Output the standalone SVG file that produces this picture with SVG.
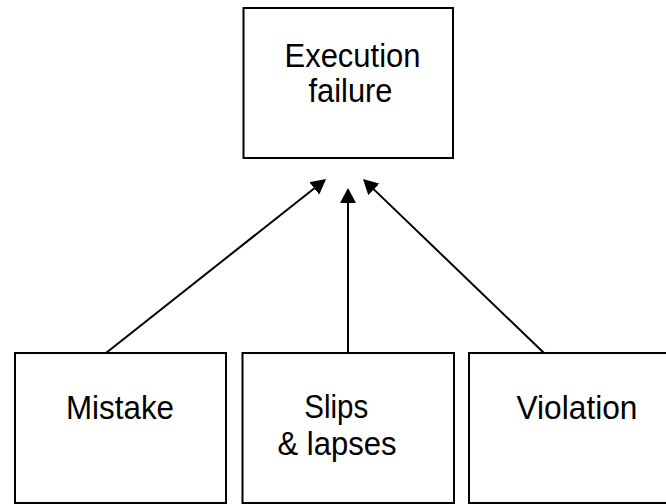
<svg xmlns="http://www.w3.org/2000/svg" width="666" height="504" viewBox="0 0 666 504">
<style>
.box{fill:#fff;stroke:#000;stroke-width:2}
.lbl{font-family:"Liberation Sans",Arial,sans-serif;font-size:33px;fill:#000;text-anchor:middle}
.edge{stroke:#000;stroke-width:2;fill:none}
</style>
<defs>
<marker id="arr" viewBox="0 0 15 16" refX="5" refY="8" markerWidth="15" markerHeight="16" markerUnits="userSpaceOnUse" orient="auto">
<path d="M0,0 L15,8 L0,16 z" fill="#000"/>
</marker>
</defs>
<rect width="666" height="504" fill="#fff"/>
<g id="execution-failure">
<rect class="box" x="243.5" y="8" width="209.5" height="150"/>
<text class="lbl" x="352.5" y="66.7" textLength="136" lengthAdjust="spacingAndGlyphs">Execution</text>
<text class="lbl" x="350.5" y="101.7" textLength="84" lengthAdjust="spacingAndGlyphs">failure</text>
</g>
<g id="mistake">
<rect class="box" x="15" y="353" width="211" height="150"/>
<text class="lbl" x="120" y="418.5" textLength="108" lengthAdjust="spacingAndGlyphs">Mistake</text>
</g>
<g id="slips-lapses">
<rect class="box" x="242.5" y="353" width="211.5" height="150"/>
<text class="lbl" x="336.3" y="418.3" textLength="64" lengthAdjust="spacingAndGlyphs">Slips</text>
<text class="lbl" x="337" y="455" textLength="119" lengthAdjust="spacingAndGlyphs">&amp; lapses</text>
</g>
<g id="violation">
<rect class="box" x="469" y="353" width="211" height="150"/>
<text class="lbl" x="577" y="419" textLength="121" lengthAdjust="spacingAndGlyphs">Violation</text>
</g>
<g id="connectors">
<line class="edge" x1="106" y1="353" x2="318.2" y2="185.2" marker-end="url(#arr)"/>
<line class="edge" x1="348" y1="353" x2="348" y2="198" marker-end="url(#arr)"/>
<line class="edge" x1="544" y1="353" x2="370.2" y2="185.9" marker-end="url(#arr)"/>
</g>
</svg>
